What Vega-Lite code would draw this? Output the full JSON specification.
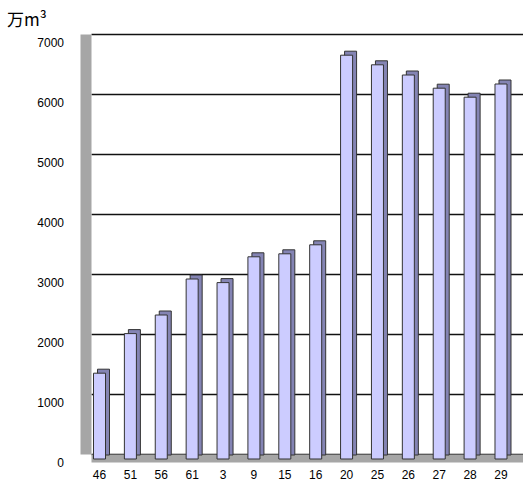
{
  "$schema": "https://vega.github.io/schema/vega-lite/v6.json",
  "autosize": "none",
  "width": 432,
  "height": 420,
  "padding": {"left": 91, "top": 34, "right": 0, "bottom": 36},
  "background": "white",
  "title": {
    "text": "万m³",
    "anchor": "start",
    "frame": "group",
    "font": "Noto Sans CJK JP",
    "fontSize": 17,
    "fontWeight": "normal",
    "color": "black",
    "dx": -84,
    "dy": 0,
    "offset": 4
  },
  "data": {
    "values": [
      {"year": "46", "value": 1430},
      {"year": "51", "value": 2090},
      {"year": "56", "value": 2400},
      {"year": "61", "value": 3000},
      {"year": "3", "value": 2940},
      {"year": "9", "value": 3370},
      {"year": "15", "value": 3420},
      {"year": "16", "value": 3570},
      {"year": "20", "value": 6730},
      {"year": "25", "value": 6570},
      {"year": "26", "value": 6400},
      {"year": "27", "value": 6180},
      {"year": "28", "value": 6030},
      {"year": "29", "value": 6250}
    ]
  },
  "encoding": {
    "x": {
      "field": "year",
      "type": "nominal",
      "sort": null,
      "scale": {"paddingInner": 0.611, "paddingOuter": 0.2995, "align": 0.135},
      "axis": {
        "title": null,
        "labelAngle": 0,
        "ticks": false,
        "domainColor": "#a6a6a6",
        "domainWidth": 8,
        "offset": 4,
        "labelPadding": 11,
        "labelFont": "Liberation Sans",
        "labelFontSize": 12,
        "labelColor": "black"
      }
    },
    "y": {
      "field": "value",
      "type": "quantitative",
      "scale": {"domain": [0, 7000], "nice": false},
      "axis": {
        "title": null,
        "values": [0, 1000, 2000, 3000, 4000, 5000, 6000, 7000],
        "format": "d",
        "ticks": false,
        "grid": true,
        "gridColor": "#111111",
        "gridWidth": 1.6,
        "domainColor": "#a6a6a6",
        "domainWidth": 11,
        "offset": 5.5,
        "labelPadding": 22,
        "labelOffset": 8,
        "labelFont": "Liberation Sans",
        "labelFontSize": 12,
        "labelColor": "black"
      }
    }
  },
  "layer": [
    {
      "mark": {"type": "bar", "color": "#8484b4", "stroke": "#333333", "strokeWidth": 1, "xOffset": 4, "yOffset": 1, "y2Offset": 1}
    },
    {
      "mark": {"type": "bar", "color": "#ccccff", "stroke": "#333333", "strokeWidth": 1, "yOffset": 5, "y2Offset": 5}
    }
  ],
  "config": {
    "view": {"stroke": null}
  }
}
